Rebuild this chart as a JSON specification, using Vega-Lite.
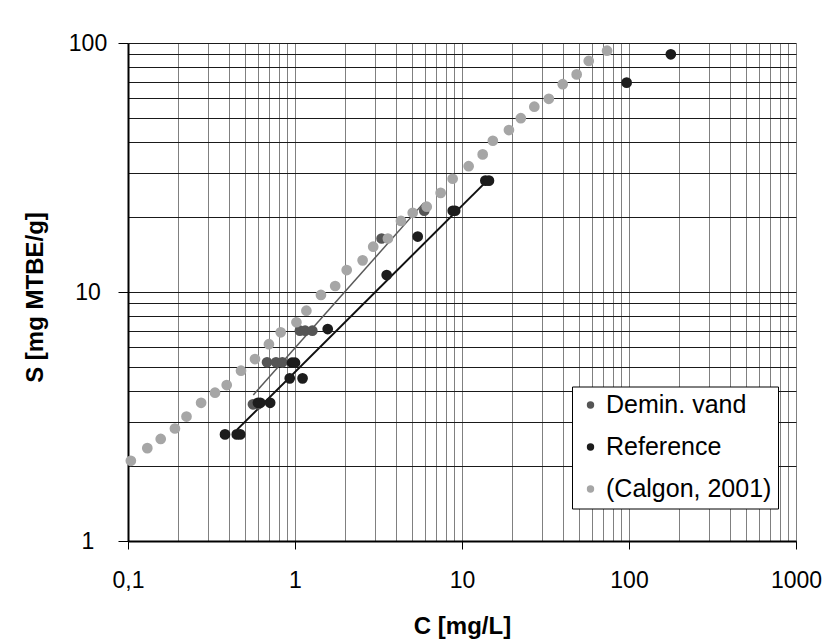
{
  "$schema": "https://vega.github.io/schema/vega-lite/v6.json",
  "width": 668,
  "height": 498,
  "autosize": "none",
  "padding": {"left": 128, "top": 43, "right": 31, "bottom": 102},
  "background": "white",
  "config": {"view": {"stroke": null}, "font": "Liberation Sans"},
  "datasets": {
    "points": [
      {"series": "Demin. vand", "C": 0.56, "S": 3.54},
      {"series": "Demin. vand", "C": 0.60, "S": 3.54},
      {"series": "Demin. vand", "C": 0.68, "S": 5.22},
      {"series": "Demin. vand", "C": 0.77, "S": 5.22},
      {"series": "Demin. vand", "C": 0.84, "S": 5.22},
      {"series": "Demin. vand", "C": 1.07, "S": 6.99},
      {"series": "Demin. vand", "C": 1.15, "S": 6.99},
      {"series": "Demin. vand", "C": 1.27, "S": 6.99},
      {"series": "Demin. vand", "C": 3.3, "S": 16.4},
      {"series": "Demin. vand", "C": 5.94, "S": 21.2},
      {"series": "Reference", "C": 0.381, "S": 2.68},
      {"series": "Reference", "C": 0.448, "S": 2.68},
      {"series": "Reference", "C": 0.47, "S": 2.68},
      {"series": "Reference", "C": 0.60, "S": 3.59},
      {"series": "Reference", "C": 0.62, "S": 3.59},
      {"series": "Reference", "C": 0.71, "S": 3.59},
      {"series": "Reference", "C": 0.93, "S": 4.5},
      {"series": "Reference", "C": 1.11, "S": 4.5},
      {"series": "Reference", "C": 0.96, "S": 5.2},
      {"series": "Reference", "C": 1.0, "S": 5.2},
      {"series": "Reference", "C": 1.57, "S": 7.1},
      {"series": "Reference", "C": 3.54, "S": 11.7},
      {"series": "Reference", "C": 5.43, "S": 16.7},
      {"series": "Reference", "C": 8.8, "S": 21.2},
      {"series": "Reference", "C": 9.1, "S": 21.2},
      {"series": "Reference", "C": 13.8, "S": 28.0},
      {"series": "Reference", "C": 14.5, "S": 28.0},
      {"series": "Reference", "C": 96.8, "S": 69.3},
      {"series": "Reference", "C": 178, "S": 90.1},
      {"series": "(Calgon, 2001)", "C": 0.104, "S": 2.10},
      {"series": "(Calgon, 2001)", "C": 0.1305, "S": 2.36},
      {"series": "(Calgon, 2001)", "C": 0.157, "S": 2.57},
      {"series": "(Calgon, 2001)", "C": 0.191, "S": 2.83},
      {"series": "(Calgon, 2001)", "C": 0.224, "S": 3.16},
      {"series": "(Calgon, 2001)", "C": 0.274, "S": 3.59},
      {"series": "(Calgon, 2001)", "C": 0.332, "S": 3.94},
      {"series": "(Calgon, 2001)", "C": 0.390, "S": 4.23},
      {"series": "(Calgon, 2001)", "C": 0.475, "S": 4.83},
      {"series": "(Calgon, 2001)", "C": 0.576, "S": 5.38},
      {"series": "(Calgon, 2001)", "C": 0.698, "S": 6.17},
      {"series": "(Calgon, 2001)", "C": 0.821, "S": 6.89},
      {"series": "(Calgon, 2001)", "C": 1.02, "S": 7.56},
      {"series": "(Calgon, 2001)", "C": 1.17, "S": 8.41},
      {"series": "(Calgon, 2001)", "C": 1.43, "S": 9.73},
      {"series": "(Calgon, 2001)", "C": 1.74, "S": 10.57},
      {"series": "(Calgon, 2001)", "C": 2.04, "S": 12.25},
      {"series": "(Calgon, 2001)", "C": 2.54, "S": 13.4},
      {"series": "(Calgon, 2001)", "C": 2.94, "S": 15.2},
      {"series": "(Calgon, 2001)", "C": 3.6, "S": 16.4},
      {"series": "(Calgon, 2001)", "C": 4.31, "S": 19.3},
      {"series": "(Calgon, 2001)", "C": 5.07, "S": 20.8},
      {"series": "(Calgon, 2001)", "C": 6.15, "S": 22.0},
      {"series": "(Calgon, 2001)", "C": 7.45, "S": 25.0},
      {"series": "(Calgon, 2001)", "C": 8.79, "S": 28.5},
      {"series": "(Calgon, 2001)", "C": 10.96, "S": 32.0},
      {"series": "(Calgon, 2001)", "C": 13.3, "S": 35.7},
      {"series": "(Calgon, 2001)", "C": 15.3, "S": 40.5},
      {"series": "(Calgon, 2001)", "C": 19.1, "S": 44.7},
      {"series": "(Calgon, 2001)", "C": 22.5, "S": 49.9},
      {"series": "(Calgon, 2001)", "C": 27.1, "S": 55.5},
      {"series": "(Calgon, 2001)", "C": 33.1, "S": 59.7},
      {"series": "(Calgon, 2001)", "C": 40.1, "S": 68.3},
      {"series": "(Calgon, 2001)", "C": 48.6, "S": 74.8},
      {"series": "(Calgon, 2001)", "C": 57.4, "S": 84.7},
      {"series": "(Calgon, 2001)", "C": 73.9, "S": 93.1}
    ],
    "fits": [
      {"series": "Demin. vand", "C": 0.563, "S": 3.86},
      {"series": "Demin. vand", "C": 5.9, "S": 22.8},
      {"series": "Reference", "C": 0.45, "S": 2.8},
      {"series": "Reference", "C": 14.3, "S": 28.2}
    ]
  },
  "encoding": {
    "x": {
      "field": "C",
      "type": "quantitative",
      "scale": {"type": "log", "domain": [0.1, 1000], "nice": false},
      "axis": {
        "title": "C [mg/L]",
        "values": [0.1, 0.2, 0.3, 0.4, 0.5, 0.6, 0.7, 0.8, 0.9, 1, 2, 3, 4, 5, 6, 7, 8, 9, 10, 20, 30, 40, 50, 60, 70, 80, 90, 100, 200, 300, 400, 500, 600, 700, 800, 900, 1000],
        "grid": true,
        "gridColor": "#808080",
        "gridWidth": 1,
        "domainColor": "#000000",
        "domainWidth": 2,
        "tickColor": "#000000",
        "tickSize": 8,
        "tickWidth": 1,
        "tickOpacity": {"condition": {"test": "abs(log(datum.value)/LN10 - round(log(datum.value)/LN10)) < 0.001", "value": 1}, "value": 0},
        "labelExpr": "abs(log(datum.value)/LN10 - round(log(datum.value)/LN10)) < 0.001 ? replace(format(datum.value, '~g'), '.', ',') : ''",
        "labelFontSize": 23,
        "labelColor": "#000000",
        "labelPadding": 20,
        "labelOverlap": false,
        "labelFlush": false,
        "titleFontSize": 24,
        "titleFontWeight": "bold",
        "titleColor": "#000000",
        "titleBaseline": "alphabetic",
        "titleY": 92
      }
    },
    "y": {
      "field": "S",
      "type": "quantitative",
      "scale": {"type": "log", "domain": [1, 100], "nice": false},
      "axis": {
        "title": "S [mg MTBE/g]",
        "values": [1, 2, 3, 4, 5, 6, 7, 8, 9, 10, 20, 30, 40, 50, 60, 70, 80, 90, 100],
        "grid": true,
        "gridColor": "#1a1a1a",
        "gridWidth": 1,
        "domainColor": "#000000",
        "domainWidth": 2,
        "tickColor": "#000000",
        "tickSize": 10,
        "tickWidth": 1,
        "tickOpacity": {"condition": {"test": "abs(log(datum.value)/LN10 - round(log(datum.value)/LN10)) < 0.001", "value": 1}, "value": 0},
        "labelExpr": "abs(log(datum.value)/LN10 - round(log(datum.value)/LN10)) < 0.001 ? format(datum.value, '~g') : ''",
        "labelFontSize": 23,
        "labelColor": "#000000",
        "labelAlign": "center",
        "labelBaseline": "middle",
        "labelPadding": 30.5,
        "labelOverlap": false,
        "labelFlush": false,
        "titleFontSize": 24,
        "titleFontWeight": "bold",
        "titleColor": "#000000",
        "titleBaseline": "alphabetic",
        "titleX": -86,
        "titleY": 254
      }
    }
  },
  "layer": [
    {
      "data": {"name": "fits"},
      "transform": [{"filter": "datum.series == 'Demin. vand'"}],
      "mark": {"type": "line", "color": "#595959", "strokeWidth": 1.5}
    },
    {
      "data": {"name": "fits"},
      "transform": [{"filter": "datum.series == 'Reference'"}],
      "mark": {"type": "line", "color": "#111111", "strokeWidth": 2}
    },
    {
      "data": {"name": "points"},
      "mark": {"type": "circle", "size": 115, "opacity": 1},
      "encoding": {
        "color": {
          "field": "series",
          "type": "nominal",
          "scale": {"domain": ["Demin. vand", "Reference", "(Calgon, 2001)"], "range": ["#555555", "#1c1c1c", "#a6a6a6"]},
          "legend": {
            "title": null,
            "orient": "none",
            "legendX": 444,
            "legendY": 343.5,
            "fillColor": "white",
            "strokeColor": "#000000",
            "padding": 6,
            "symbolType": "circle",
            "symbolSize": 55,
            "symbolOpacity": 1,
            "labelFontSize": 25,
            "labelLimit": 300,
            "labelColor": "#000000",
            "labelOffset": 3,
            "rowPadding": 16,
            "cornerRadius": 0
          }
        }
      }
    }
  ]
}
